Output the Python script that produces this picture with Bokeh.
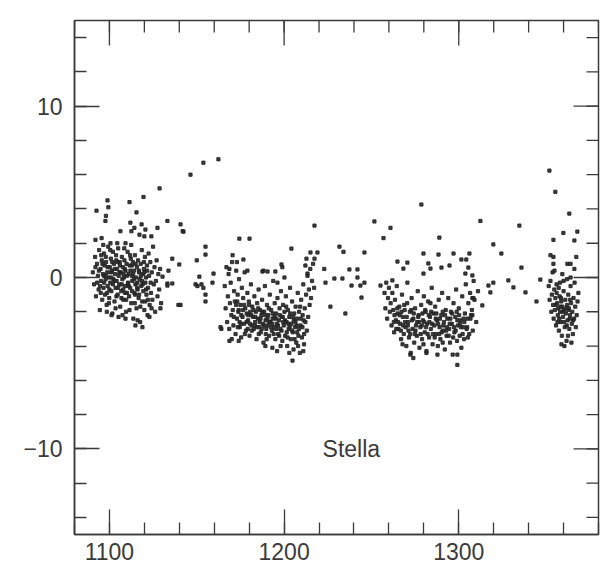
from bokeh.plotting import figure
from bokeh.models import LinearAxis, FixedTicker, ColumnDataSource, Label, Range1d
from bokeh.embed import file_html
from bokeh.resources import INLINE

# ---- data: (time, value) ----
season1 = [
    (1090.5, 0.3), (1091.2, -0.4), (1091.8, 1.2), (1092.3, -1.1), (1092.9, 0.8), (1093.4, 0.1), (1093.8, -0.7),
    (1094.1, 1.6), (1094.5, -1.9), (1094.9, 0.5), (1095.2, -0.2), (1095.6, 1.0), (1095.9, -1.3), (1096.3, 0.2),
    (1096.6, -0.6), (1096.9, 1.4), (1097.2, 0.7), (1097.5, -1.0), (1097.8, -0.1), (1098.1, 0.9), (1098.4, -1.6),
    (1098.7, 0.3), (1099.0, -0.5), (1099.3, 1.8), (1099.6, 0.0), (1099.9, -1.2), (1100.2, 0.6), (1100.5, -0.3),
    (1100.8, 1.1), (1101.1, -0.8), (1101.4, 0.4), (1101.7, -2.1), (1102.0, 1.5), (1102.3, -0.1), (1102.6, 0.8),
    (1102.9, -1.4), (1103.2, 0.2), (1103.5, -0.6), (1103.8, 1.3), (1104.1, -0.2), (1104.4, 0.5), (1104.7, -1.0),
    (1105.0, 1.7), (1105.3, 0.1), (1105.6, -0.4), (1105.9, 0.9), (1106.2, -1.7), (1106.5, 0.3), (1106.8, -0.8),
    (1107.1, 1.2), (1107.4, -0.1), (1107.7, 0.6), (1108.0, -1.3), (1108.3, 0.0), (1108.6, 1.0), (1108.9, -0.5),
    (1109.2, 0.4), (1109.5, -2.0), (1109.8, 0.8), (1110.1, -0.9), (1110.4, 1.5), (1110.7, -0.3), (1111.0, 0.2),
    (1111.3, -1.1), (1111.6, 0.7), (1111.9, -0.6), (1112.2, 1.1), (1112.5, -1.5), (1112.8, 0.1), (1113.1, -0.2),
    (1113.4, 0.9), (1113.7, -2.4), (1114.0, 0.4), (1114.3, -0.9), (1114.6, 1.3), (1114.9, -0.4), (1115.2, 0.0),
    (1115.5, -1.8), (1115.8, 0.6), (1116.1, -0.7), (1116.4, 1.0), (1116.7, -1.2), (1117.0, 0.3), (1117.3, -0.1),
    (1117.6, -2.6), (1117.9, 0.8), (1118.2, -0.5), (1118.5, 1.6), (1118.8, -1.4), (1119.1, 0.2), (1119.4, -0.8),
    (1119.7, 0.5), (1120.0, -1.9), (1120.3, 1.2), (1120.6, -0.3), (1120.9, 0.0), (1121.2, -1.0), (1121.5, 0.7),
    (1121.8, -2.2), (1122.1, -0.6), (1122.4, 1.4), (1122.7, 0.1), (1123.0, -1.6), (1123.4, 0.9), (1123.8, -0.9),
    (1124.2, 0.3), (1124.6, -1.3), (1125.0, 1.8), (1125.4, -0.4), (1125.8, 0.6), (1126.2, -2.0), (1126.6, -0.2),
    (1127.0, 1.0), (1127.5, -1.1), (1128.0, 0.2), (1128.5, -0.7), (1129.0, 0.5), (1129.6, -1.5),
    (1093.0, -0.3), (1094.0, 0.4), (1095.0, -0.9), (1096.0, 0.8), (1097.0, -0.3), (1098.0, 0.1), (1099.0, 0.6),
    (1100.0, -0.7), (1101.0, 0.0), (1102.0, -0.4), (1103.0, 0.5), (1104.0, -1.1), (1105.0, -0.6), (1106.0, 0.7),
    (1107.0, -0.4), (1108.0, 0.2), (1109.0, -0.9), (1110.0, 0.1), (1111.0, -0.5), (1112.0, 0.4), (1113.0, -0.8),
    (1114.0, -0.1), (1115.0, 0.8), (1116.0, -0.3), (1117.0, -1.0), (1118.0, 0.1), (1119.0, -0.4), (1120.0, 0.3),
    (1121.0, -0.7), (1122.0, -1.3), (1096.5, 1.9), (1100.5, 1.6), (1104.5, 2.0), (1108.5, 1.7), (1112.5, 1.9),
    (1098.5, -2.0), (1103.5, -1.8), (1107.5, -2.2), (1111.5, -1.9), (1114.5, -1.5),
    (1101.2, -2.2), (1105.2, -2.3), (1109.2, -2.4), (1114.9, -2.8), (1118.9, -2.9), (1116.1, -2.5),
    (1122.9, -2.3), (1124.1, -1.8), (1129.2, -1.8), (1133.2, -0.35),
    (1092.0, 0.6), (1094.6, -0.5), (1096.8, 0.1), (1098.6, -0.9), (1100.9, 0.3), (1102.7, -0.2), (1104.8, 0.9),
    (1106.9, -1.2), (1108.8, 0.5), (1110.6, -0.4), (1112.9, 0.7), (1114.7, -1.0), (1116.8, 0.4), (1118.6, -0.2),
    (1120.4, -1.4), (1095.3, 1.3), (1099.7, -1.5), (1103.9, 1.0), (1107.9, -0.7), (1111.8, 1.3), (1115.9, -0.6),
    (1119.8, 0.9), (1123.6, -0.3), (1101.6, 0.9), (1105.7, 0.3), (1109.6, -1.3), (1113.6, 0.2), (1117.7, -1.7),
    (1121.6, 0.4), (1097.9, 1.2),
]

season2 = [
    (1166.0, -0.5), (1166.5, -1.8), (1167.0, 0.6), (1167.4, -2.6), (1167.8, -1.1), (1168.2, 0.2), (1168.6, -3.0),
    (1169.0, -1.5), (1169.4, -0.3), (1169.8, -2.2), (1170.2, 0.9), (1170.6, -1.9), (1171.0, -2.8), (1171.4, -0.8),
    (1171.8, -1.4), (1172.2, -3.3), (1172.6, 0.4), (1173.0, -2.4), (1173.4, -1.0), (1173.8, -2.0), (1174.2, -0.1),
    (1174.6, -2.9), (1175.0, -1.6), (1175.4, -3.5), (1175.8, -0.6), (1176.2, -2.3), (1176.6, -1.2), (1177.0, -2.7),
    (1177.4, 0.3), (1177.8, -1.8), (1178.2, -3.1), (1178.6, -2.1), (1179.0, -0.9), (1179.4, -2.5), (1179.8, -1.4),
    (1180.2, -3.4), (1180.6, -2.0), (1181.0, -0.4), (1181.4, -2.8), (1181.8, -1.7), (1182.2, -2.3), (1182.6, -3.0),
    (1183.0, -1.1), (1183.4, -2.6), (1183.8, -2.0), (1184.2, -3.6), (1184.6, -1.5), (1185.0, -2.4), (1185.4, -0.7),
    (1185.8, -2.9), (1186.2, -1.9), (1186.6, -3.2), (1187.0, -2.2), (1187.4, -1.3), (1187.8, -2.7), (1188.2, -3.8),
    (1188.6, -2.0), (1189.0, -0.5), (1189.4, -2.5), (1189.8, -3.0), (1190.2, -1.6), (1190.6, -2.8), (1191.0, -2.2),
    (1191.4, -3.4), (1191.8, -1.0), (1192.2, -2.6), (1192.6, -1.9), (1193.0, -3.1), (1193.4, -2.4), (1193.8, -0.2),
    (1194.2, -2.9), (1194.6, -1.5), (1195.0, -3.6), (1195.4, -2.1), (1195.8, -2.7), (1196.2, -1.2), (1196.6, -3.3),
    (1197.0, -2.5), (1197.4, -1.8), (1197.8, -3.0), (1198.2, -0.8), (1198.6, -2.3), (1199.0, -3.7), (1199.4, -1.6),
    (1199.8, -2.8), (1200.2, -2.0), (1200.6, -3.4), (1201.0, -1.1), (1201.4, -2.6), (1201.8, -4.0), (1202.2, -1.9),
    (1202.6, -3.0), (1203.0, -2.3), (1203.4, -0.6), (1203.8, -3.6), (1204.2, -2.7), (1204.6, -1.4), (1205.0, -3.2),
    (1205.4, -4.2), (1205.8, -2.1), (1206.2, -2.9), (1206.6, -1.7), (1207.0, -3.8), (1207.4, -2.4), (1207.8, -0.9),
    (1208.2, -3.4), (1208.6, -2.0), (1209.0, -4.4), (1209.4, -2.8), (1209.8, -1.3), (1210.2, -3.5), (1210.6, -2.2),
    (1211.0, -0.4), (1211.4, -3.9), (1211.8, -1.8), (1212.2, -2.6), (1212.6, -1.0), (1213.0, -3.1), (1213.4, 0.1),
    (1213.8, -2.3), (1214.2, -0.7), (1214.6, -1.6), (1215.0, 0.5), (1215.4, -1.2), (1216.0, -0.2), (1216.6, 0.8),
    (1217.2, -0.6),
    (1172.5, -1.6), (1174.5, -2.6), (1176.5, -1.9), (1178.5, -2.6), (1180.5, -2.7), (1182.5, -1.9), (1184.5, -2.9),
    (1186.5, -2.4), (1188.5, -2.8), (1190.5, -2.4), (1192.5, -2.9), (1194.5, -2.3), (1196.5, -2.8), (1198.5, -3.1),
    (1200.5, -2.5), (1202.5, -2.7), (1204.5, -3.1), (1206.5, -2.6), (1208.5, -3.0), (1210.5, -2.9), (1173.5, -2.9),
    (1175.5, -2.2), (1177.5, -3.3), (1179.5, -2.2), (1181.5, -3.1), (1183.5, -2.3), (1185.5, -3.3), (1187.5, -2.0),
    (1189.5, -3.3), (1191.5, -2.6), (1193.5, -2.1), (1195.5, -3.0), (1197.5, -2.2), (1199.5, -2.6), (1201.5, -3.2),
    (1203.5, -2.1), (1205.5, -2.5), (1207.5, -3.2), (1209.5, -2.4), (1211.5, -3.3),
    (1168.7, 0.5), (1176.7, 1.05), (1179.0, 0.4), (1188.2, 0.4), (1195.0, 0.35), (1199.0, 0.6), (1170.5, 1.3),
    (1173.0, 0.9), (1189.3, -4.0), (1193.3, -4.1), (1203.0, -4.4), (1204.8, -4.85), (1170.0, -3.6), (1168.7, -3.7),
    (1174.0, -3.7), (1198.0, -4.0), (1196.0, -4.3), (1211.0, -4.3), (1208.0, -4.0), (1164.1, -3.0), (1163.6, -2.9),
    (1171.2, -2.3), (1173.2, -1.4), (1175.2, -2.7), (1177.2, -1.6), (1179.2, -3.0), (1181.2, -2.2), (1183.2, -2.8),
    (1185.2, -1.8), (1187.2, -3.0), (1189.2, -2.2), (1191.2, -1.8), (1193.2, -2.7), (1195.2, -2.4), (1197.2, -3.4),
    (1199.2, -2.3), (1201.2, -1.7), (1203.2, -2.9), (1205.2, -2.3), (1207.2, -2.8), (1209.2, -1.7), (1211.2, -2.5),
    (1174.0, -1.9), (1186.0, -2.6), (1194.0, -3.3), (1202.0, -3.5), (1206.0, -3.6), (1180.0, -1.6), (1190.0, -3.6),
]

season3 = [
    (1257.5, -0.9), (1258.0, -1.8), (1258.5, -0.3), (1259.0, -2.4), (1259.5, -1.2), (1260.0, -0.6), (1260.5, -2.0),
    (1261.0, -1.5), (1261.5, -2.8), (1262.0, -0.9), (1262.5, -1.9), (1263.0, -3.2), (1263.5, -1.3), (1264.0, -2.5),
    (1264.5, -0.5), (1265.0, -2.1), (1265.5, -3.0), (1266.0, -1.7), (1266.5, -2.7), (1267.0, -3.6), (1267.5, -1.0),
    (1268.0, -2.3), (1268.5, -3.3), (1269.0, -1.9), (1269.5, -2.9), (1270.0, -4.0), (1270.5, -1.5), (1271.0, -2.6),
    (1271.5, -3.5), (1272.0, -2.0), (1272.5, -4.4), (1273.0, -1.2), (1273.5, -3.0), (1274.0, -2.4), (1274.5, -3.8),
    (1275.0, -1.8), (1275.5, -2.8), (1276.0, -3.4), (1276.5, -0.8), (1277.0, -2.2), (1277.5, -4.1), (1278.0, -2.9),
    (1278.5, -1.6), (1279.0, -3.6), (1279.5, -2.5), (1280.0, -1.1), (1280.5, -3.2), (1281.0, -2.0), (1281.5, -4.3),
    (1282.0, -2.7), (1282.5, -1.4), (1283.0, -3.5), (1283.5, -2.3), (1284.0, -3.0), (1284.5, -0.6), (1285.0, -3.9),
    (1285.5, -2.1), (1286.0, -2.8), (1286.5, -1.7), (1287.0, -3.3), (1287.5, -2.5), (1288.0, -4.0), (1288.5, -1.3),
    (1289.0, -2.9), (1289.5, -3.6), (1290.0, -2.2), (1290.5, -0.9), (1291.0, -3.1), (1291.5, -2.6), (1292.0, -4.2),
    (1292.5, -1.9), (1293.0, -3.4), (1293.5, -2.4), (1294.0, -1.2), (1294.5, -3.0), (1295.0, -3.8), (1295.5, -2.0),
    (1296.0, -2.7), (1296.5, -4.5), (1297.0, -1.5), (1297.5, -3.2), (1298.0, -2.3), (1298.5, -0.7), (1299.0, -3.7),
    (1299.5, -2.8), (1300.0, -1.8), (1300.5, -3.4), (1301.0, -2.5), (1301.5, -4.1), (1302.0, -1.1), (1302.5, -2.9),
    (1303.0, -3.6), (1303.5, -2.1), (1304.0, -0.4), (1304.5, -3.0), (1305.0, -2.4), (1305.5, -1.5), (1306.0, -3.3),
    (1306.5, -0.9), (1307.0, -2.2), (1307.5, -1.9), (1308.0, -3.1), (1308.5, -0.2), (1309.0, -1.3), (1310.0, -2.6),
    (1311.0, -0.8),
    (1263.2, -2.2), (1265.2, -2.6), (1267.2, -2.0), (1269.2, -2.6), (1271.2, -3.1), (1273.2, -2.5), (1275.2, -3.1),
    (1277.2, -2.6), (1279.2, -2.1), (1281.2, -2.9), (1283.2, -2.6), (1285.2, -3.3), (1287.2, -2.1), (1289.2, -2.4),
    (1291.2, -2.8), (1293.2, -2.9), (1295.2, -2.4), (1297.2, -2.9), (1299.2, -2.5), (1301.2, -2.9), (1303.2, -2.6),
    (1305.2, -3.5), (1264.2, -3.0), (1266.2, -2.2), (1268.2, -2.8), (1270.2, -2.3), (1272.2, -3.3), (1274.2, -2.1),
    (1276.2, -2.6), (1278.2, -3.3), (1280.2, -2.6), (1282.2, -3.3), (1284.2, -2.0), (1286.2, -3.5), (1288.2, -2.7),
    (1290.2, -3.2), (1292.2, -2.2), (1294.2, -3.4), (1296.2, -2.1), (1298.2, -3.1), (1300.2, -2.2), (1302.2, -3.3),
    (1299.2, -5.1), (1299.2, -4.5), (1272.3, -4.5), (1274.0, -4.7), (1287.8, -4.5), (1281.5, -4.4),
    (1307.8, -1.2), (1306.7, -2.4), (1307.8, -2.2), (1308.4, -1.2),
    (1262.8, -2.6), (1264.8, -1.8), (1266.8, -3.1), (1268.8, -1.6), (1270.8, -2.8), (1272.8, -1.9), (1274.8, -3.3),
    (1276.8, -2.3), (1278.8, -2.8), (1280.8, -1.9), (1282.8, -2.2), (1284.8, -2.7), (1286.8, -2.4), (1288.8, -3.3),
    (1290.8, -2.0), (1292.8, -3.1), (1294.8, -2.7), (1296.8, -3.5), (1298.8, -2.0), (1300.8, -2.7), (1302.8, -2.4),
    (1304.8, -2.9), (1267.8, -3.9), (1279.8, -3.9), (1290.8, -3.8), (1283.8, -1.5),
]

season4 = [
    (1351.5, -0.5), (1352.0, -1.3), (1352.5, -0.2), (1353.0, -2.0), (1353.3, -1.0), (1353.7, 0.3), (1354.0, -1.6),
    (1354.3, -2.4), (1354.7, -0.7), (1355.0, -1.9), (1355.3, -1.2), (1355.7, -2.8), (1356.0, -0.9), (1356.3, -1.5),
    (1356.7, -2.2), (1357.0, -1.8), (1357.3, -3.1), (1357.7, -1.1), (1358.0, -2.0), (1358.3, -2.6), (1358.7, -1.4),
    (1359.0, -3.4), (1359.3, -1.7), (1359.7, -2.3), (1360.0, -0.8), (1360.3, -1.9), (1360.7, -2.9), (1361.0, -1.3),
    (1361.3, -2.1), (1361.7, -3.7), (1362.0, -1.6), (1362.3, -2.5), (1362.7, -1.0), (1363.0, -1.8), (1363.3, -3.0),
    (1363.7, -2.2), (1364.0, -0.5), (1364.3, -1.5), (1364.7, -2.7), (1365.0, -2.0), (1365.3, -3.3), (1365.7, -1.2),
    (1366.0, -2.4), (1366.3, -0.3), (1366.7, -1.7), (1367.0, -2.9), (1367.5, -2.2), (1368.0, -1.4), (1368.5, -0.9),
    (1357.5, -2.4), (1359.5, -2.0), (1361.5, -1.8), (1363.5, -2.4), (1355.5, -1.6), (1358.5, -1.2), (1362.5, -3.4),
    (1364.5, -3.8), (1360.5, -4.0), (1358.8, -3.9),
    (1352.5, 1.3), (1354.2, 1.2), (1367.3, 1.2), (1354.2, 0.8), (1362.2, 0.8), (1364.0, 0.8), (1366.2, 0.5),
    (1354.8, 0.4), (1359.3, 0.2), (1356.0, -0.4), (1358.0, -0.3), (1360.0, -0.2), (1362.0, -0.1), (1364.0, 0.0),
    (1356.5, -2.6), (1358.2, -1.7), (1360.2, -2.6), (1361.8, -2.8), (1363.8, -1.3), (1365.5, -2.5), (1357.2, -0.6),
    (1362.8, -1.9),
]

scattered = [
    (1092.6, 3.9), (1098.9, 4.5), (1099.4, 4.1), (1111.5, 4.4), (1119.5, 4.7), (1128.7, 5.2), (1146.4, 6.0),
    (1153.8, 6.7), (1162.4, 6.9), (1115.5, 3.8), (1098.0, 3.6), (1097.7, 3.3), (1112.0, 3.2), (1118.4, 3.1),
    (1106.3, 2.7), (1112.6, 2.7), (1120.6, 2.8), (1127.5, 2.9), (1133.2, 3.3), (1140.7, 3.1), (1141.9, 2.7),
    (1117.2, 2.5), (1120.0, 2.4), (1124.0, 2.4), (1092.0, 2.2), (1095.5, 2.3), (1100.6, 2.0), (1109.2, 2.0),
    (1114.3, 2.9), (1155.0, 1.8), (1150.0, 1.0), (1136.0, 1.1), (1133.8, 0.4), (1130.4, 0.05), (1136.0, -0.35),
    (1151.5, 0.05), (1150.4, -0.5), (1153.8, -0.6), (1159.0, -0.3), (1155.0, -1.4), (1140.7, -1.6), (1140.0, 0.76),
    (1174.4, 2.27), (1180.2, 2.27), (1155.0, 1.34), (1159.6, 0.23), (1149.3, -0.4), (1152.7, -0.4), (1155.0, -1.0),
    (1142.4, 2.68), (1133.2, -0.47), (1139.5, -1.6),
    (1217.4, 3.03), (1204.2, 1.69), (1215.1, 1.46), (1219.1, 1.46), (1212.8, 1.1), (1217.4, 1.1), (1231.7, 1.8),
    (1234.0, 1.5), (1223.0, 0.5), (1237.4, 0.47), (1228.8, -0.06), (1233.4, -0.06), (1223.7, -0.3), (1238.6, -0.47),
    (1226.5, -1.7), (1235.1, -2.1), (1198.5, 0.76), (1187.6, 0.35), (1190.5, 0.35), (1196.2, -0.3), (1200.2, 0.0),
    (1212.2, 0.7), (1213.4, 0.23),
    (1251.7, 3.27), (1260.9, 2.9), (1256.9, 2.3), (1246.0, 1.46), (1242.0, 0.47), (1242.0, 0.0), (1246.0, -0.3),
    (1243.7, -0.47), (1255.2, -0.47), (1244.3, -1.17),
    (1278.6, 4.26), (1288.9, 2.33), (1279.8, 1.4), (1288.4, 1.34), (1264.9, 0.93), (1270.6, 0.87), (1268.3, 0.52),
    (1282.6, 0.82), (1283.8, 0.52), (1290.1, 0.58), (1279.8, 0.23), (1262.0, -0.17), (1270.6, -0.3),
    (1312.4, 3.3), (1334.7, 3.03), (1319.8, 1.93), (1324.4, 1.4), (1297.0, 1.4), (1306.1, 1.4), (1301.5, 1.05),
    (1304.3, 1.05), (1335.9, 0.58), (1328.4, -0.17), (1331.3, -0.58), (1338.2, -0.87), (1346.7, -0.12),
    (1319.8, -0.3), (1317.0, -0.47), (1318.1, -0.87), (1313.5, -1.63), (1344.5, -1.4), (1294.7, 0.7),
    (1305.5, 0.58), (1307.8, 0.12), (1303.8, 0.23),
    (1351.9, 6.24), (1355.3, 5.0), (1363.3, 3.73), (1354.2, 2.2), (1359.9, 2.6), (1367.9, 2.68), (1366.2, 2.16),
]

x_major = [1100, 1200, 1300]
x_minor = list(range(1080, 1381, 20))
y_major = [-10, 0, 10]
y_minor = list(range(-14, 15, 2))
y_labels = {-10: "\u221210", 0: "0", 10: "10"}
label_text = "Stella"
label_pos = (1238.5, -10.0)

# ---- build ----
X0, X1, Y0, Y1 = 1080, 1380, -15, 15
groups = [season1, season2, season3, season4, scattered]
xs = [t for g in groups for t, _ in g]
ys = [m for g in groups for _, m in g]
src = ColumnDataSource(data=dict(t=xs, m=ys))

INK = "#3a3a3a"
FONT = "Liberation Sans"

p = figure(width=604, height=573, output_backend="svg", toolbar_location=None,
           x_range=Range1d(X0, X1), y_range=Range1d(Y0, Y1),
           x_axis_location=None, y_axis_location=None,
           min_border_left=74, min_border_right=6, min_border_top=20, min_border_bottom=39)
p.grid.visible = False
p.outline_line_color = INK
p.outline_line_width = 1.5
p.background_fill_color = "white"
p.border_fill_color = "white"

xt = FixedTicker(ticks=x_major, minor_ticks=x_minor)
yt = FixedTicker(ticks=y_major, minor_ticks=y_minor)


def style(ax):
    ax.axis_line_color = INK
    ax.axis_line_width = 1.5
    ax.major_tick_in = 25
    ax.major_tick_out = 0
    ax.minor_tick_in = 12
    ax.minor_tick_out = 0
    ax.major_tick_line_color = INK
    ax.minor_tick_line_color = INK
    ax.major_tick_line_width = 1.3
    ax.minor_tick_line_width = 1.3
    ax.major_label_text_font = FONT
    ax.major_label_text_font_size = "23px"
    ax.major_label_text_color = INK


bottom = LinearAxis(ticker=xt)
style(bottom)
bottom.major_label_standoff = 8
left = LinearAxis(ticker=yt, major_label_overrides=y_labels)
style(left)
left.major_label_standoff = 12
p.add_layout(bottom, "below")
p.add_layout(left, "left")

# inward ticks on the top and right edges of the frame (no labels)
px_per_x = (604 - 74 - 6) / (X1 - X0)
px_per_y = (573 - 20 - 39) / (Y1 - Y0)
maj_len, min_len = 25, 12
top_x = x_major + x_minor
top_len = [maj_len / px_per_y] * len(x_major) + [min_len / px_per_y] * len(x_minor)
p.segment(x0=top_x, y0=[Y1] * len(top_x), x1=top_x, y1=[Y1 - l for l in top_len],
          line_color=INK, line_width=1.3)
right_y = y_major + y_minor
right_len = [maj_len / px_per_x] * len(y_major) + [min_len / px_per_x] * len(y_minor)
p.segment(x0=[X1] * len(right_y), y0=right_y, x1=[X1 - l for l in right_len], y1=right_y,
          line_color=INK, line_width=1.3)

p.scatter("t", "m", source=src, marker="square", size=3.2, color="#262626", alpha=0.9)

p.add_layout(Label(x=label_pos[0], y=label_pos[1], text=label_text, text_font=FONT,
                   text_font_size="23px", text_color=INK, text_align="center", text_baseline="middle"))

open("out.html", "w").write(file_html(p, INLINE))
